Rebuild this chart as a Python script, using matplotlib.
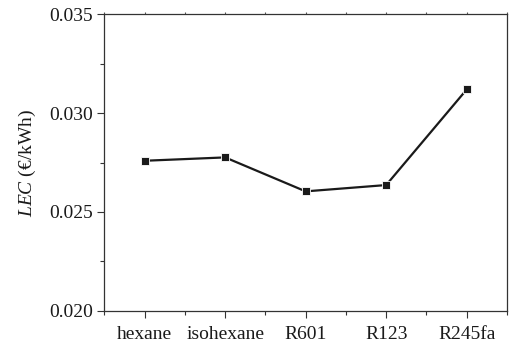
import matplotlib
matplotlib.use('Agg')
import matplotlib.pyplot as plt
from matplotlib.ticker import MultipleLocator

plt.rcParams['font.family'] = 'Liberation Serif'
plt.rcParams['mathtext.fontset'] = 'custom'
plt.rcParams['mathtext.rm'] = 'Liberation Serif'
plt.rcParams['mathtext.it'] = 'Liberation Serif:italic'

fluids = ['hexane', 'isohexane', 'R601', 'R123', 'R245fa']
lec = [0.02759, 0.02776, 0.02604, 0.02636, 0.03120]

fig = plt.figure(figsize=(5.09, 3.44), dpi=100)
ax = fig.add_axes([0.205, 0.097, 0.791, 0.861])

x = list(range(len(fluids)))
ax.plot(x, lec, color='#1a1a1a', lw=1.6, marker='s', ms=6,
        mfc='#1a1a1a', mec='white', mew=0.6)

ax.set_xlim(-0.5, 4.5)
ax.set_ylim(0.020, 0.035)
ax.set_xticks(x)
ax.set_xticklabels(fluids)
ax.xaxis.set_minor_locator(MultipleLocator(0.5))
ax.yaxis.set_major_locator(MultipleLocator(0.005))
ax.yaxis.set_minor_locator(MultipleLocator(0.0025))
ax.yaxis.set_major_formatter(matplotlib.ticker.FormatStrFormatter('%.3f'))

for s in ax.spines.values():
    s.set_color('#333333')
    s.set_linewidth(0.9)

ax.tick_params(which='both', direction='out', colors='#333333', labelcolor='#1a1a1a',
               labelsize=14, right=False, width=0.8)
ax.tick_params(which='major', length=5, pad=3)
ax.tick_params(which='minor', length=3)
ax.tick_params(axis='x', which='major', pad=6)

# tiny marks along the top edge
sec = ax.secondary_xaxis('top')
sec.set_xticks(x)
sec.xaxis.set_minor_locator(MultipleLocator(0.5))
sec.tick_params(which='both', length=1.5, width=0.8, colors='#555555',
                labeltop=False)
sec.spines['top'].set_visible(False)

ax.set_ylabel(r'$\it{LEC}$ (€/kWh)', fontsize=14, color='#1a1a1a', labelpad=8)

fig.savefig('out.png', dpi=100)
